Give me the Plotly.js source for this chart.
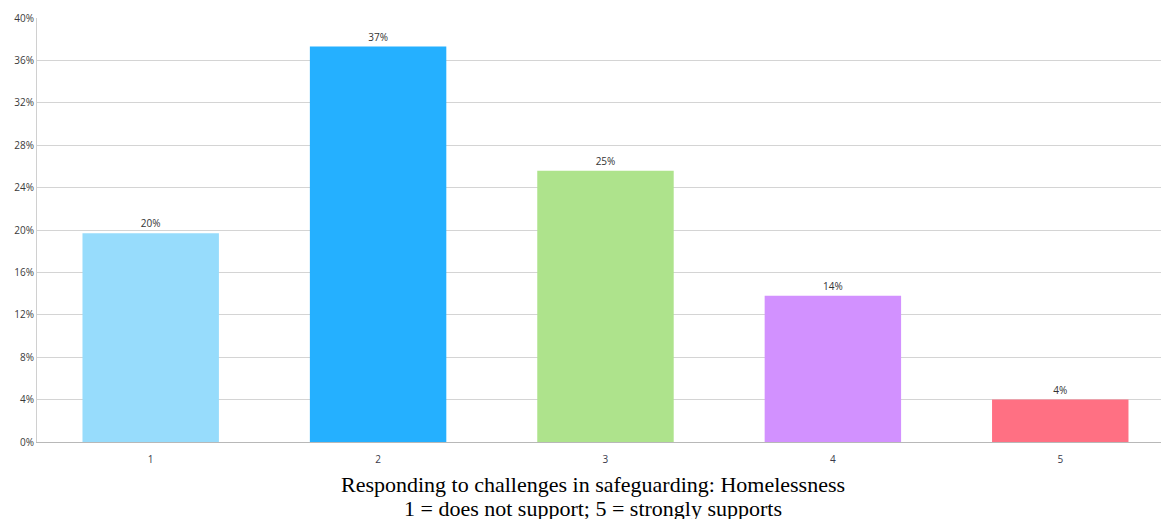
<!DOCTYPE html>
<html>
<head>
<meta charset="utf-8">
<script src="https://cdn.plot.ly/plotly-3.0.1.min.js"></script>
<style>html,body{margin:0;padding:0;background:#fff;}#chart{width:1161px;height:519px;}</style>
</head>
<body>
<div id="chart"></div>
<script>
const categories = ["1", "2", "3", "4", "5"];
const values = [19.7, 37.3, 25.6, 13.8, 4.0];
const labels = ["20%", "37%", "25%", "14%", "4%"];
const colors = ["#97DCFC", "#25B0FF", "#AEE38C", "#D291FF", "#FF7083"];
const yTicks = [0, 4, 8, 12, 16, 20, 24, 28, 32, 36, 40];
const yTickText = yTicks.map(v => v + "%");
const titleLines = ["Responding to challenges in safeguarding: Homelessness", "1 = does not support; 5 = strongly supports"];

const trace = {
  type: "bar",
  x: categories,
  y: values,
  width: 0.6,
  marker: {color: colors, line: {width: 0}},
  text: labels,
  textposition: "outside",
  cliponaxis: false,
  textfont: {family: "Open Sans, DejaVu Sans, sans-serif", size: 10, color: "#333"},
  hoverinfo: "none"
};

const titleFont = {family: "Liberation Serif, Times New Roman, serif", size: 22, color: "#000"};

const layout = {
  width: 1161, height: 519,
  margin: {l: 37, r: 0, t: 18, b: 77},
  paper_bgcolor: "#fff", plot_bgcolor: "#fff",
  showlegend: false,
  bargap: 0.4,
  xaxis: {
    type: "category",
    range: [-0.5, 4.443],
    showgrid: false,
    showline: true, linecolor: "#b8b8b8", linewidth: 1,
    ticks: "", ticklen: 0,
    ticklabelstandoff: 8,
    tickfont: {family: "Open Sans, DejaVu Sans, sans-serif", size: 10, color: "#3a3a4a"}
  },
  yaxis: {
    range: [0, 40],
    tickvals: yTicks, ticktext: yTickText,
    showgrid: true, gridcolor: "#d4d4d4", gridwidth: 1,
    showline: true, linecolor: "#d0d0d0", linewidth: 1,
    zeroline: false,
    ticks: "",
    tickfont: {family: "Open Sans, DejaVu Sans, sans-serif", size: 10, color: "#3a3a3a"}
  },
  annotations: [
    {text: titleLines[0], xref: "paper", yref: "paper", x: 0.4947, y: -0.1014, xanchor: "center", yanchor: "middle", showarrow: false, font: titleFont},
    {text: titleLines[1], xref: "paper", yref: "paper", x: 0.4947, y: -0.1557, xanchor: "center", yanchor: "middle", showarrow: false, font: titleFont}
  ],
  font: {family: "Open Sans, DejaVu Sans, sans-serif"}
};

Plotly.newPlot("chart", [trace], layout, {displayModeBar: false, staticPlot: true});
</script>
</body>
</html>
